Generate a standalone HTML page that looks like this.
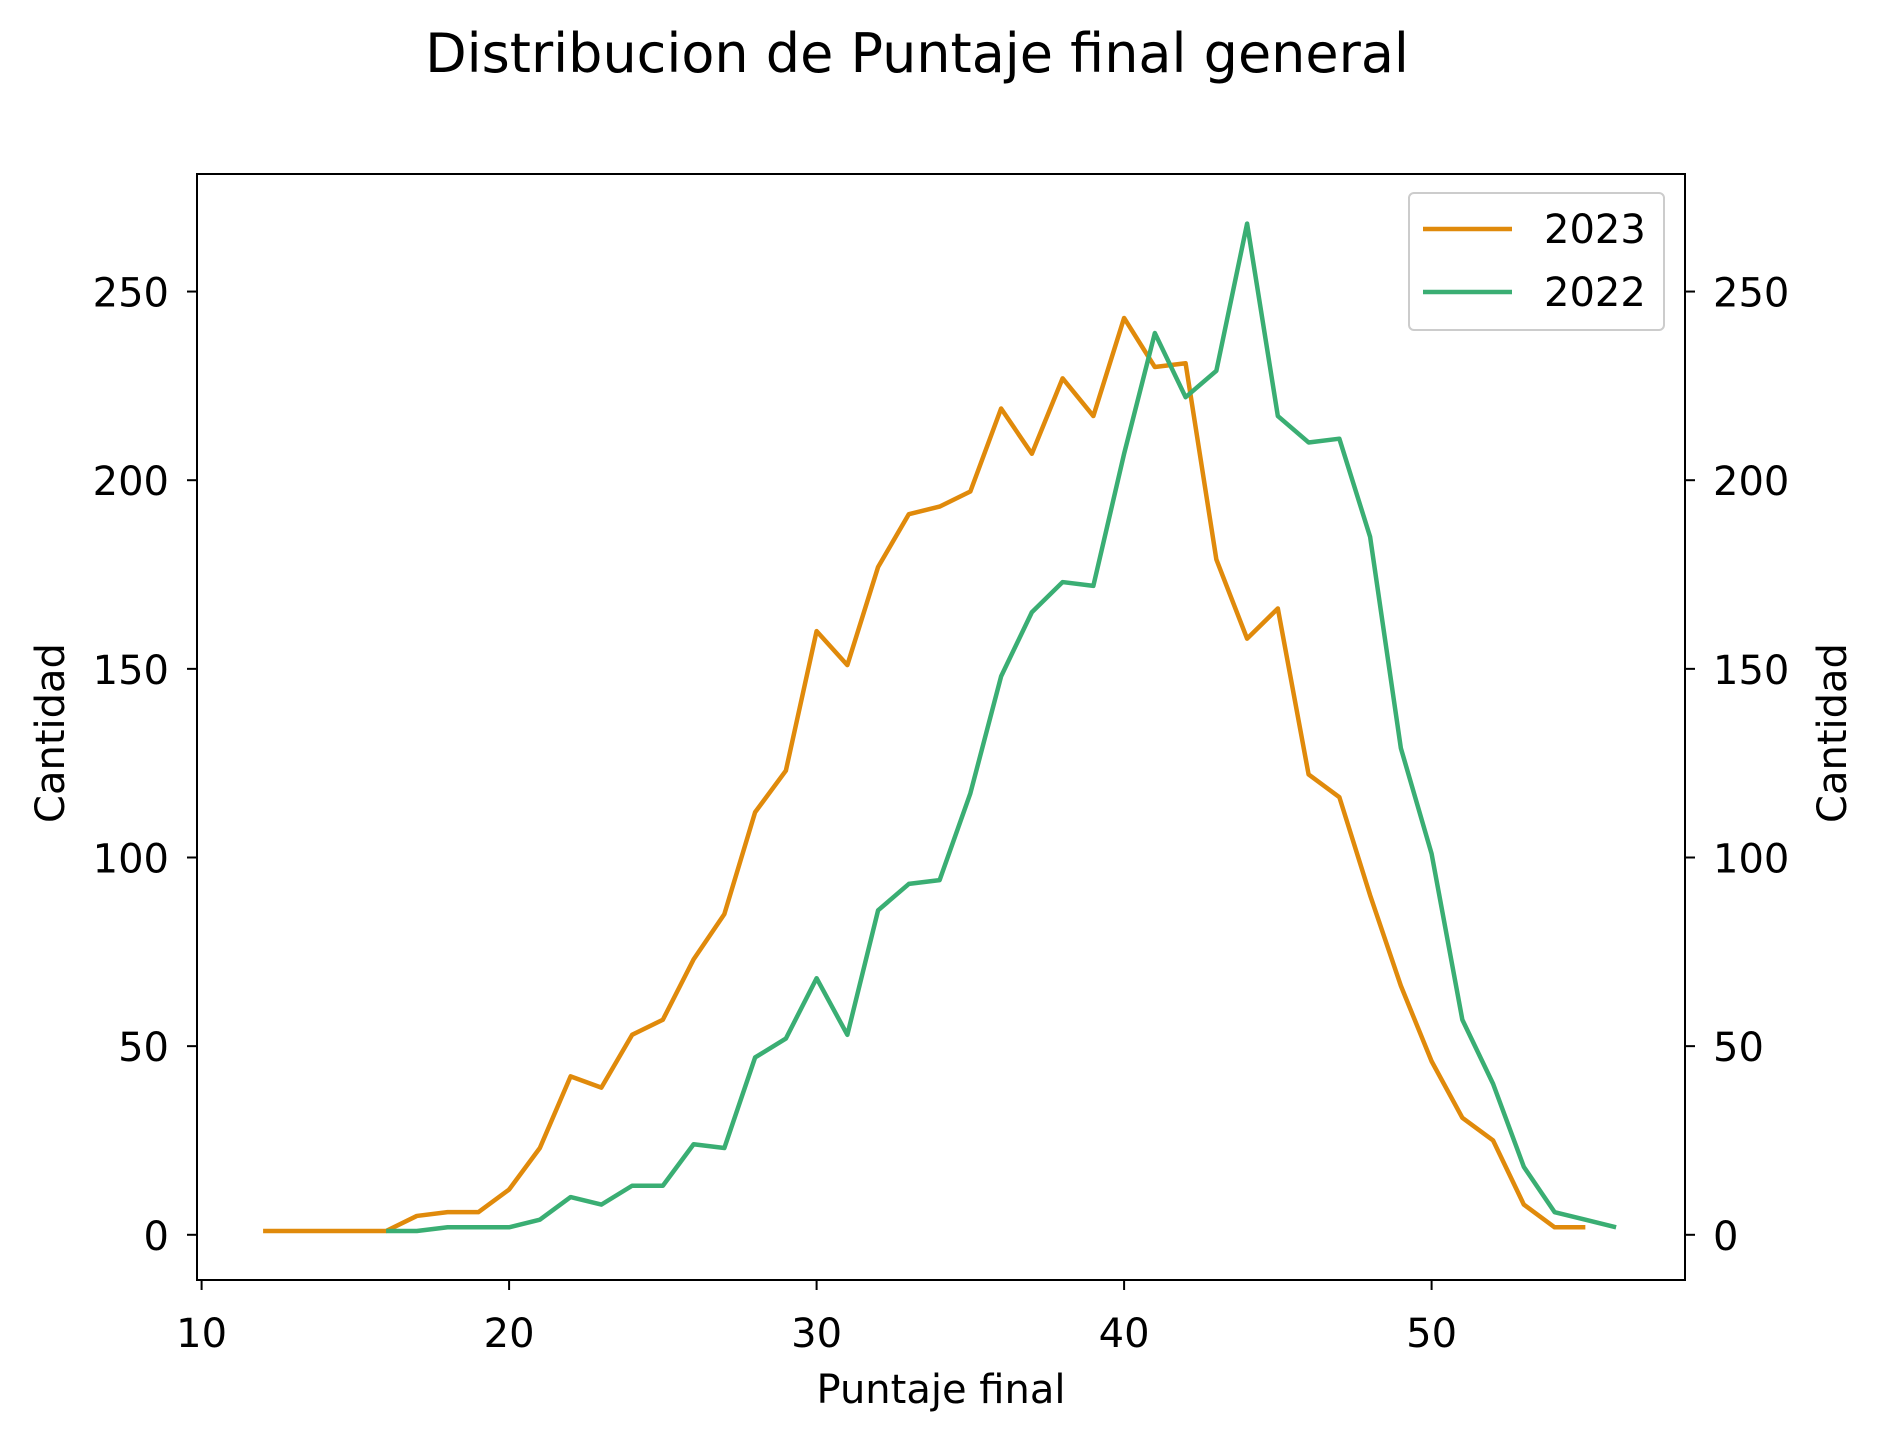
<!DOCTYPE html>
<html><head><meta charset="utf-8"><style>
html,body{margin:0;padding:0;background:#fff;}
svg text{font-family:"DejaVu Sans","Liberation Sans",sans-serif;fill:#000;}
</style></head><body>
<svg id="chart" width="1882" height="1442" viewBox="0 0 1882 1442" xmlns="http://www.w3.org/2000/svg">
<text x="917" y="72" font-size="54" text-anchor="middle">Distribucion de Puntaje final general</text>
<g id="lines"></g>
<rect x="197" y="174" width="1488" height="1106" fill="none" stroke="#000" stroke-width="2"/>
<g id="axes"></g>
<text x="941" y="1403" font-size="40" text-anchor="middle">Puntaje final</text>
<text transform="translate(64,733) rotate(-90)" font-size="40" text-anchor="middle">Cantidad</text>
<text transform="translate(1846,733) rotate(-90)" font-size="40" text-anchor="middle">Cantidad</text>
<g>
<rect x="1409" y="193" width="255" height="137" rx="5" fill="#fff" fill-opacity="0.8" stroke="#ccc" stroke-width="2"/>
<line x1="1423" y1="229" x2="1512" y2="229" stroke="#e08a0b" stroke-width="4.5"/>
<text x="1544" y="243" font-size="40">2023</text>
<line x1="1423" y1="292" x2="1512" y2="292" stroke="#3aae73" stroke-width="4.5"/>
<text x="1544" y="306" font-size="40">2022</text>
</g>
</svg>
<script>
const x2023 = [12,13,14,15,16,17,18,19,20,21,22,23,24,25,26,27,28,29,30,31,32,33,34,35,36,37,38,39,40,41,42,43,44,45,46,47,48,49,50,51,52,53,54,55];
const y2023 = [1,1,1,1,1,5,6,6,12,23,42,39,53,57,73,85,112,123,160,151,177,191,193,197,219,207,227,217,243,230,231,179,158,166,122,116,90,66,46,31,25,8,2,2];
const x2022 = [16,17,18,19,20,21,22,23,24,25,26,27,28,29,30,31,32,33,34,35,36,37,38,39,40,41,42,43,44,45,46,47,48,49,50,51,52,53,54,55,56];
const y2022 = [1,1,2,2,2,4,10,8,13,13,24,23,47,52,68,53,86,93,94,117,148,165,173,172,207,239,222,229,268,217,210,211,185,129,101,57,40,18,6,4,2];
const xTicks = [10,20,30,40,50];
const yTicks = [0,50,100,150,200,250];
const NS='http://www.w3.org/2000/svg';
function sx(v){return 201.6+(v-10)*30.75;}
function sy(v){return 1234.8-v*3.773;}
const axes=document.getElementById('axes');
function mk(tag,attrs,parent){const e=document.createElementNS(NS,tag);for(const k in attrs)e.setAttribute(k,attrs[k]);parent.appendChild(e);return e;}
xTicks.forEach(t=>{
  const l=mk('line',{x1:sx(t),x2:sx(t),y1:1280,y2:1290,stroke:'#000','stroke-width':2},axes);
  
  
  const tx=mk('text',{x:sx(t),y:1347,'font-size':40,'text-anchor':'middle'},axes);
  tx.textContent=t;
  
  
});
yTicks.forEach(t=>{
  const l=mk('line',{x1:187,x2:197,y1:sy(t),y2:sy(t),stroke:'#000','stroke-width':2},axes);
  
  
  const r=mk('line',{x1:1685,x2:1695,y1:sy(t),y2:sy(t),stroke:'#000','stroke-width':2},axes);
  
  
  const tl=mk('text',{x:169,y:sy(t)+15,'font-size':40,'text-anchor':'end'},axes);
  tl.textContent=t;
  
  
  const tr=mk('text',{x:1713,y:sy(t)+15,'font-size':40,'text-anchor':'start'},axes);
  tr.textContent=t;
  
  
});
const lines=document.getElementById('lines');
function series(xs,ys,color,name){
  const p=mk('polyline',{points:xs.map((x,i)=>sx(x)+','+sy(ys[i])).join(' '),fill:'none',stroke:color,'stroke-width':4.5,'stroke-linejoin':'round'},lines);
  
  
}
series(x2023,y2023,'#e08a0b','line-2023');
series(x2022,y2022,'#3aae73','line-2022');
</script>
</body></html>
